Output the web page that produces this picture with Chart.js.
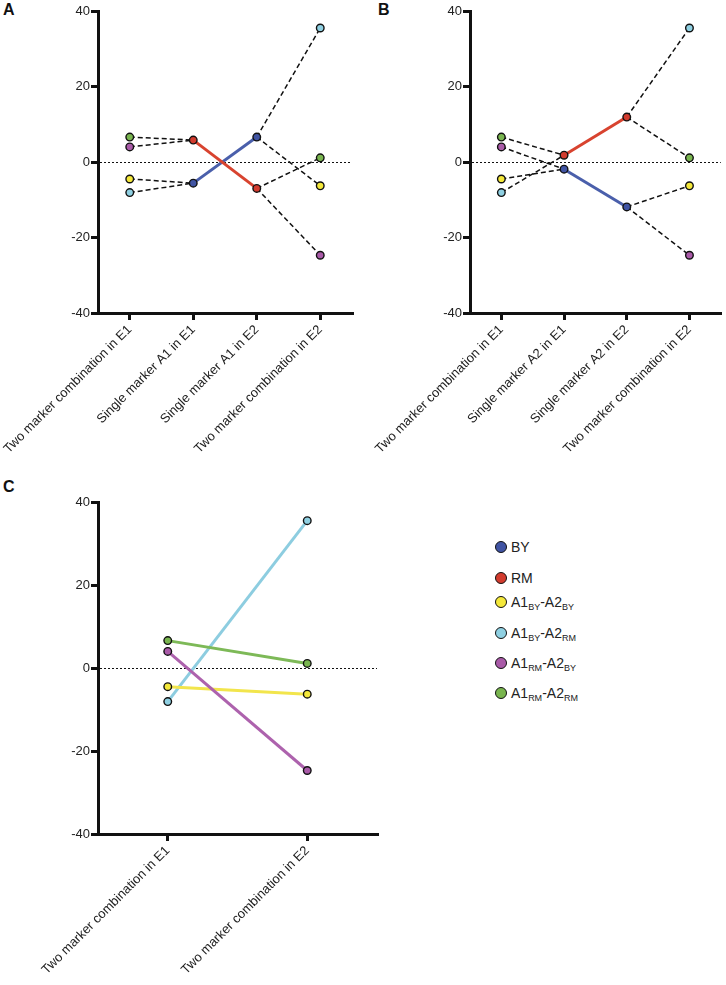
<!DOCTYPE html>
<html>
<head>
<meta charset="utf-8">
<script src="https://cdn.jsdelivr.net/npm/chart.js@4.4.1/dist/chart.umd.min.js"></script>
<style>
  html, body { margin: 0; padding: 0; background: #fff; overflow: hidden; }
  body { width: 726px; height: 985px; position: relative; font-family: "Liberation Sans", Arial, Helvetica, sans-serif; }
  .box { position: absolute; }
  .tag { position: absolute; font-weight: bold; font-size: 16px; line-height: 16px; color: #111; }
  .item { position: absolute; left: 495px; height: 16px; display: flex; align-items: center; white-space: nowrap; font-size: 14px; color: #222; }
  .dot { display: inline-block; width: 10px; height: 10px; border: 1.5px solid #111; border-radius: 50%; margin-right: 4px; }
  sub { font-size: 9px; position: relative; top: 5px; vertical-align: baseline; line-height: 0; }
</style>
</head>
<body>
<div class="tag" style="left:3px;top:2px">A</div>
<div class="tag" style="left:378px;top:2px">B</div>
<div class="tag" style="left:3px;top:479px">C</div>

<div class="box" style="left:0;top:0;width:360px;height:470px"><canvas id="chartA"></canvas></div>
<div class="box" style="left:372px;top:0;width:354px;height:470px"><canvas id="chartB"></canvas></div>
<div class="box" style="left:0;top:470px;width:400px;height:515px"><canvas id="chartC"></canvas></div>

<div class="item" style="top:539px"><span class="dot" style="background:#4054a3"></span>BY</div>
<div class="item" style="top:570px"><span class="dot" style="background:#d23b2e"></span>RM</div>
<div class="item" style="top:594px"><span class="dot" style="background:#f4e83a"></span>A1<sub>BY</sub>-A2<sub>BY</sub></div>
<div class="item" style="top:625px"><span class="dot" style="background:#8fd0e2"></span>A1<sub>BY</sub>-A2<sub>RM</sub></div>
<div class="item" style="top:655px"><span class="dot" style="background:#a95aa8"></span>A1<sub>RM</sub>-A2<sub>BY</sub></div>
<div class="item" style="top:685px"><span class="dot" style="background:#79b54f"></span>A1<sub>RM</sub>-A2<sub>RM</sub></div>

<script>
// categories
const catsA = ['Two marker combination in E1', 'Single marker A1 in E1', 'Single marker A1 in E2', 'Two marker combination in E2'];
const catsB = ['Two marker combination in E1', 'Single marker A2 in E1', 'Single marker A2 in E2', 'Two marker combination in E2'];
const catsC = ['Two marker combination in E1', 'Two marker combination in E2'];
const yTicks = [-40, -20, 0, 20, 40];

// two marker combinations: A1BY-A2BY, A1BY-A2RM, A1RM-A2BY, A1RM-A2RM
const comboE1 = [-4.5, -8.1, 4.0, 6.6];
const comboE2 = [-6.3, 35.5, -24.7, 1.1];
const comboA1 = ['BY', 'BY', 'RM', 'RM'];
const comboA2 = ['BY', 'RM', 'BY', 'RM'];

// single markers, [E1, E2]
const a1BY = [-5.6, 6.6];
const a1RM = [5.8, -7.0];
const a2BY = [-1.9, -11.9];
const a2RM = [1.8, 11.9];

const dotColors = { BY: '#4054a3', RM: '#d23b2e' };
const lineColors = { BY: '#4a5fab', RM: '#d8432f' };
const comboDot = ['#f4e83a', '#8fd0e2', '#a95aa8', '#79b54f'];
const comboLine = ['#f2e54c', '#8dcde0', '#ad62ad', '#7db957'];
const ink = '#111';
const font = "'Liberation Sans', Arial, Helvetica, sans-serif";

// dotted line at y = 0 across the plot
const zeroLine = {
  id: 'zeroLine',
  beforeDatasetsDraw(chart) {
    const { ctx, chartArea, scales } = chart;
    const y = Math.round(scales.y.getPixelForValue(0)) + 0.5;
    ctx.save();
    ctx.strokeStyle = ink;
    ctx.lineWidth = 1;
    ctx.setLineDash([2, 2]);
    ctx.beginPath();
    ctx.moveTo(chartArea.left + 2, y);
    ctx.lineTo(chartArea.right, y);
    ctx.stroke();
    ctx.restore();
  }
};

const axisGrid = { drawOnChartArea: false, lineWidth: 3, tickLength: 7, tickWidth: 3, tickColor: ink, color: ink };

function makeScales(xHeight) {
  return {
    x: {
      type: 'category',
      offset: true,
      grid: axisGrid,
      border: { display: true, color: ink, width: 3 },
      ticks: { minRotation: 45, maxRotation: 45, autoSkip: false, color: '#222', padding: 2, font: { size: 13, family: font } },
      afterFit(s) { s.height = xHeight; s.paddingLeft = 0; s.paddingRight = 0; }
    },
    y: {
      min: yTicks[0],
      max: yTicks[yTicks.length - 1],
      afterBuildTicks(s) { s.ticks = yTicks.map(v => ({ value: v })); },
      grid: axisGrid,
      border: { display: true, color: ink, width: 3 },
      ticks: { color: '#222', padding: 1, font: { size: 13, family: font } },
      afterFit(s) { s.width = 98; s.paddingTop = 0; s.paddingBottom = 0; }
    }
  };
}

const pointStyle = { pointBorderColor: ink, pointBorderWidth: 1.4, pointRadius: 3.8, pointHoverRadius: 3.8 };

function singlePanel(id, cats, singles, allele, right) {
  const sets = [];
  // dashed links: combination -> single marker in E1, single marker in E2 -> combination
  comboE1.forEach((v, i) => {
    const s = singles[allele[i]];
    sets.push({
      data: [v, s[0], s[1], comboE2[i]],
      borderColor: ink, borderWidth: 1.5, borderDash: [5, 3],
      pointRadius: 0, pointHoverRadius: 0, order: 3,
      segment: { borderColor: ctx => ctx.p0DataIndex === 1 ? 'rgba(0,0,0,0)' : ink }
    });
  });
  ['RM', 'BY'].forEach(k => {
    sets.push({
      data: [null, singles[k][0], singles[k][1], null],
      borderColor: lineColors[k], borderWidth: 3,
      pointBackgroundColor: dotColors[k], ...pointStyle, order: 1
    });
  });
  comboE1.forEach((v, i) => {
    sets.push({
      data: [v, null, null, comboE2[i]], showLine: false,
      pointBackgroundColor: comboDot[i], ...pointStyle, order: 0
    });
  });
  new Chart(document.getElementById(id), {
    type: 'line',
    data: { labels: cats, datasets: sets },
    options: {
      responsive: true, maintainAspectRatio: false, animation: false, events: [],
      layout: { padding: { top: 11, right: right, left: 0, bottom: 0 } },
      plugins: { legend: { display: false }, tooltip: { enabled: false } },
      scales: makeScales(157)
    },
    plugins: [zeroLine]
  });
}

singlePanel('chartA', catsA, { BY: a1BY, RM: a1RM }, comboA1, 8);
singlePanel('chartB', catsB, { BY: a2BY, RM: a2RM }, comboA2, 2);

// panel C: combinations only
const order = [2, 3, 0, 1];
new Chart(document.getElementById('chartC'), {
  type: 'line',
  data: {
    labels: catsC,
    datasets: comboE1.map((v, i) => ({
      data: [v, comboE2[i]],
      borderColor: comboLine[i], borderWidth: 3,
      pointBackgroundColor: comboDot[i], ...pointStyle, order: order[i]
    }))
  },
  options: {
    responsive: true, maintainAspectRatio: false, animation: false, events: [],
    layout: { padding: { top: 32, right: 23, left: 0, bottom: 0 } },
    plugins: { legend: { display: false }, tooltip: { enabled: false } },
    scales: makeScales(151)
  },
  plugins: [zeroLine]
});
</script>
</body>
</html>
